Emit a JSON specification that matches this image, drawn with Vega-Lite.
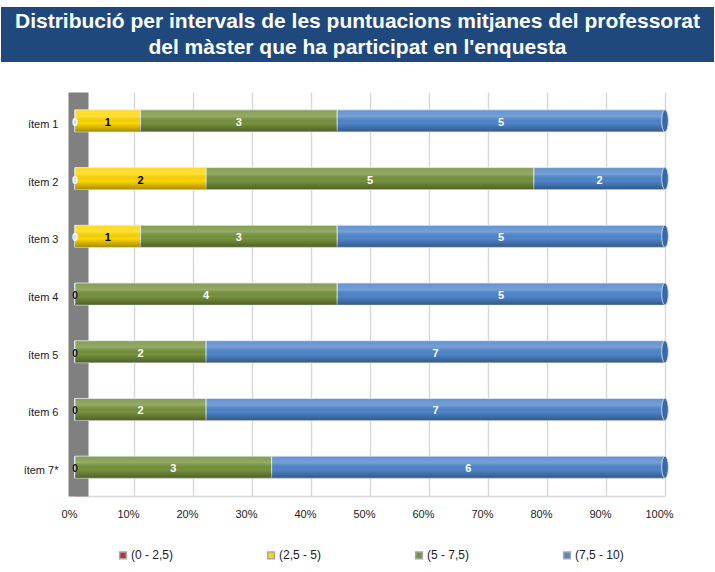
{
  "$schema": "https://vega.github.io/schema/vega-lite/v6.json",
  "background": "white",
  "padding": {"left": 1, "top": 7, "right": 1, "bottom": 0},
  "spacing": 30,
  "config": {"font": "Liberation Sans", "view": {"stroke": null}},
  "vconcat": [
    {
      "width": 713,
      "height": 55,
      "view": {"fill": "#1F497D", "stroke": null},
      "data": {"values": [{"title": "Distribució per intervals de les puntuacions mitjanes del professorat\ndel màster que ha participat en l'enquesta"}]},
      "mark": {"type": "text", "color": "white", "fontSize": 21, "fontWeight": "bold", "lineBreak": "\n", "lineHeight": 26, "align": "center", "baseline": "middle", "dy": -13},
      "encoding": {"text": {"field": "title", "type": "nominal"}}
    },
    {
      "width": 713,
      "height": 404,
      "data": {
        "values": [
          {"item": "ítem 1", "interval": "(0 - 2,5)", "ord": 1, "count": 0},
          {"item": "ítem 1", "interval": "(2,5 - 5)", "ord": 2, "count": 1},
          {"item": "ítem 1", "interval": "(5 - 7,5)", "ord": 3, "count": 3},
          {"item": "ítem 1", "interval": "(7,5 - 10)", "ord": 4, "count": 5},
          {"item": "ítem 2", "interval": "(0 - 2,5)", "ord": 1, "count": 0},
          {"item": "ítem 2", "interval": "(2,5 - 5)", "ord": 2, "count": 2},
          {"item": "ítem 2", "interval": "(5 - 7,5)", "ord": 3, "count": 5},
          {"item": "ítem 2", "interval": "(7,5 - 10)", "ord": 4, "count": 2},
          {"item": "ítem 3", "interval": "(0 - 2,5)", "ord": 1, "count": 0},
          {"item": "ítem 3", "interval": "(2,5 - 5)", "ord": 2, "count": 1},
          {"item": "ítem 3", "interval": "(5 - 7,5)", "ord": 3, "count": 3},
          {"item": "ítem 3", "interval": "(7,5 - 10)", "ord": 4, "count": 5},
          {"item": "ítem 4", "interval": "(0 - 2,5)", "ord": 1, "count": 0},
          {"item": "ítem 4", "interval": "(2,5 - 5)", "ord": 2, "count": 0},
          {"item": "ítem 4", "interval": "(5 - 7,5)", "ord": 3, "count": 4},
          {"item": "ítem 4", "interval": "(7,5 - 10)", "ord": 4, "count": 5},
          {"item": "ítem 5", "interval": "(0 - 2,5)", "ord": 1, "count": 0},
          {"item": "ítem 5", "interval": "(2,5 - 5)", "ord": 2, "count": 0},
          {"item": "ítem 5", "interval": "(5 - 7,5)", "ord": 3, "count": 2},
          {"item": "ítem 5", "interval": "(7,5 - 10)", "ord": 4, "count": 7},
          {"item": "ítem 6", "interval": "(0 - 2,5)", "ord": 1, "count": 0},
          {"item": "ítem 6", "interval": "(2,5 - 5)", "ord": 2, "count": 0},
          {"item": "ítem 6", "interval": "(5 - 7,5)", "ord": 3, "count": 2},
          {"item": "ítem 6", "interval": "(7,5 - 10)", "ord": 4, "count": 7},
          {"item": "ítem 7*", "interval": "(0 - 2,5)", "ord": 1, "count": 0},
          {"item": "ítem 7*", "interval": "(2,5 - 5)", "ord": 2, "count": 0},
          {"item": "ítem 7*", "interval": "(5 - 7,5)", "ord": 3, "count": 3},
          {"item": "ítem 7*", "interval": "(7,5 - 10)", "ord": 4, "count": 6}
        ]
      },
      "encoding": {
        "y": {
          "field": "item",
          "type": "nominal",
          "sort": null,
          "scale": {"paddingInner": 0, "paddingOuter": 0},
          "axis": {
            "title": null,
            "domainColor": "#808080",
            "domainWidth": 20,
            "offset": -77,
            "ticks": false,
            "labelPadding": 20,
            "labelFontSize": 11,
            "labelColor": "#222222",
            "labelOffset": 4,
            "grid": false
          }
        }
      },
      "layer": [
        {
          "mark": {"type": "bar", "size": 22, "stroke": "#e6ecf2", "strokeWidth": 0.8},
          "encoding": {
            "x": {
              "field": "count",
              "type": "quantitative",
              "stack": "normalize",
              "scale": {"domain": [0, 1], "range": [74, 664], "nice": false},
              "axis": {
                "title": null,
                "format": ".0%",
                "values": [0, 0.1, 0.2, 0.3, 0.4, 0.5, 0.6, 0.7, 0.8, 0.9, 1],
                "grid": true,
                "gridColor": "#d9d9d9",
                "gridWidth": 1.5,
                "ticks": false,
                "domainColor": "#d9d9d9",
                "domainWidth": 1.5,
                "labelFlush": false,
                "labelPadding": 12,
                "labelOffset": -6,
                "labelFontSize": 11,
                "labelColor": "#222222"
              }
            },
            "color": {
              "field": "interval",
              "type": "nominal",
              "scale": {
                "domain": ["(0 - 2,5)", "(2,5 - 5)", "(5 - 7,5)", "(7,5 - 10)"],
                "range": ["#B03A38", "#FFD700", "#77933C", "#4F86CC"]
              },
              "legend": {
                "title": null,
                "orient": "none",
                "legendX": 116,
                "legendY": 542,
                "direction": "horizontal",
                "columns": 4,
                "gridAlign": "all",
                "columnPadding": 84,
                "symbolType": "square",
                "symbolSize": 45,
                "symbolStrokeColor": "#a6a6a6",
                "symbolStrokeWidth": 1.5,
                "labelFontSize": 12,
                "labelColor": "#222222",
                "labelOffset": 2
              }
            },
            "order": {"field": "ord", "type": "quantitative"}
          }
        },
        {
          "mark": {
            "type": "bar",
            "size": 22,
            "fill": {
              "gradient": "linear",
              "x1": 0, "y1": 0, "x2": 0, "y2": 1,
              "stops": [
                {"offset": 0, "color": "rgba(255,255,255,0.10)"},
                {"offset": 0.3, "color": "rgba(255,255,255,0.22)"},
                {"offset": 0.6, "color": "rgba(0,0,0,0)"},
                {"offset": 1, "color": "rgba(0,0,0,0.35)"}
              ]
            }
          },
          "encoding": {
            "x": {"field": "count", "type": "quantitative", "stack": "normalize"},
            "detail": {"field": "interval", "type": "nominal"},
            "order": {"field": "ord", "type": "quantitative"}
          }
        },
        {
          "mark": {
            "type": "point",
            "shape": "M0,-1 A0.3,1 0 0 1 0,1 A0.3,1 0 0 1 0,-1 Z",
            "size": 484,
            "filled": true,
            "fill": "#3A68A6",
            "stroke": "#c6d9f1",
            "strokeWidth": 1
          },
          "encoding": {
            "x": {"field": "count", "type": "quantitative", "stack": "normalize"},
            "detail": {"field": "interval", "type": "nominal"},
            "order": {"field": "ord", "type": "quantitative"},
            "opacity": {"condition": {"test": "datum.interval === '(7,5 - 10)'", "value": 1}, "value": 0}
          }
        },
        {
          "mark": {"type": "text", "fontSize": 11, "fontWeight": "bold", "dy": 2},
          "encoding": {
            "x": {"field": "count", "type": "quantitative", "stack": "normalize", "bandPosition": 0.5},
            "text": {"field": "count", "type": "quantitative"},
            "detail": {"field": "interval", "type": "nominal"},
            "order": {"field": "ord", "type": "quantitative"},
            "color": {"condition": {"test": "datum.interval === '(2,5 - 5)'", "value": "#000000"}, "value": "#ffffff"}
          }
        }
      ]
    }
  ]
}
